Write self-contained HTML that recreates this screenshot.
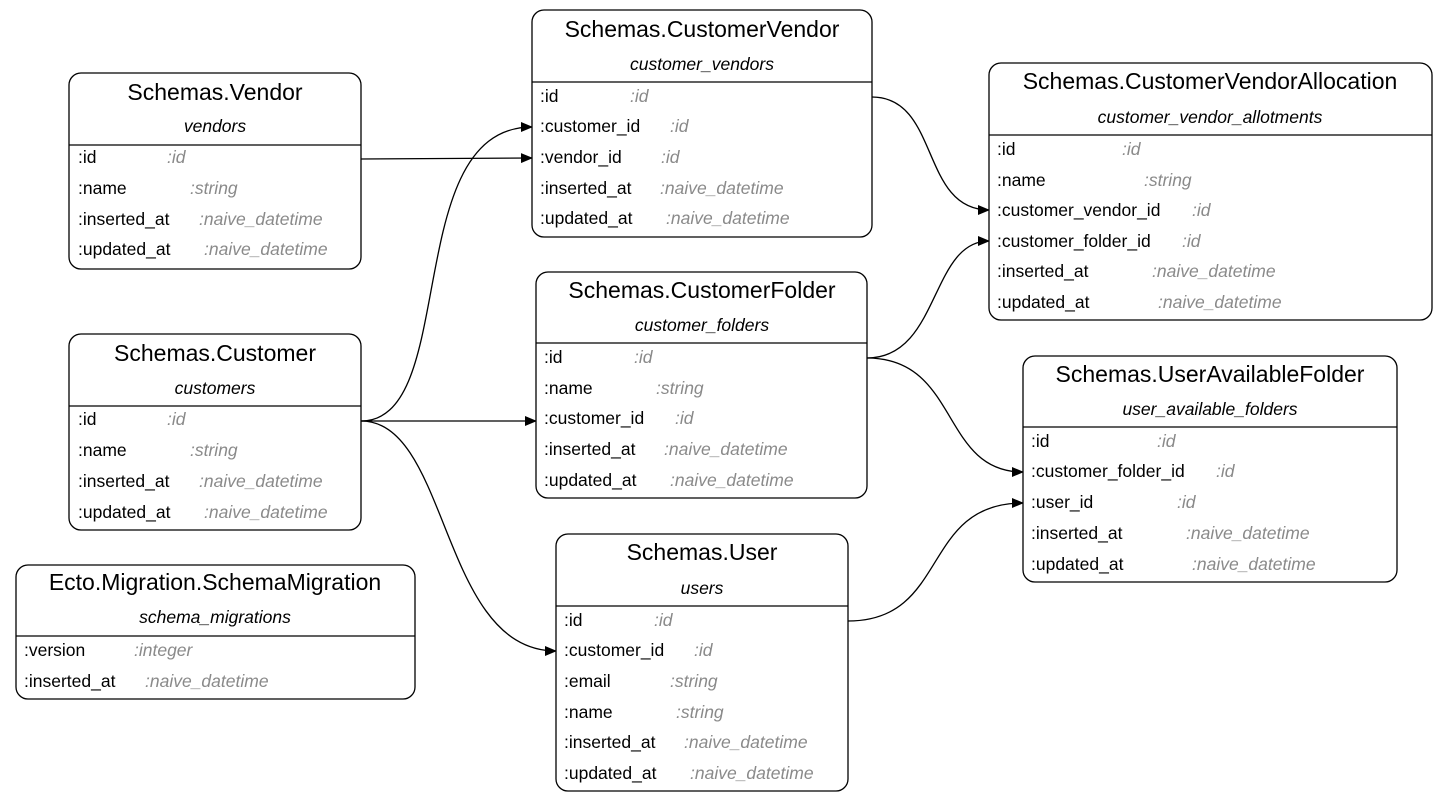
<!DOCTYPE html>
<html><head><meta charset="utf-8"><style>
html,body{margin:0;padding:0;background:#fff;}
svg{display:block;font-family:"Liberation Sans",Arial,sans-serif;}
.t{font-size:23px;fill:#000;text-anchor:middle}
.s{font-size:17.5px;font-style:italic;fill:#000;text-anchor:middle}
.f{font-size:17.5px;fill:#000}
.y{font-size:17.5px;font-style:italic;fill:#8a8a8a}
.b{fill:#fff;stroke:#000;stroke-width:1.3}
.e{fill:none;stroke:#000;stroke-width:1.3}
</style></head><body>
<svg width="1448" height="802" viewBox="0 0 1448 802">
<defs><marker id="a" markerWidth="12" markerHeight="10" refX="11" refY="5" orient="auto" markerUnits="userSpaceOnUse"><path d="M0,0 L12,5 L0,10 z" fill="#000"/></marker></defs>

<path class="e" marker-end="url(#a)" d="M361,159 L532,158"/>
<path class="e" marker-end="url(#a)" d="M361,421 C460,421 400,127 532,127"/>
<path class="e" marker-end="url(#a)" d="M361,421 L536,421"/>
<path class="e" marker-end="url(#a)" d="M361,421 C450,421 440,651 556,651"/>
<path class="e" marker-end="url(#a)" d="M872,97 C940,97 920,210 989,210"/>
<path class="e" marker-end="url(#a)" d="M867,358 C940,358 930,241 989,241"/>
<path class="e" marker-end="url(#a)" d="M867,358 C960,358 940,472 1023,472"/>
<path class="e" marker-end="url(#a)" d="M848,621 C950,621 920,503 1023,503"/>

<rect class="b" x="69" y="73" width="292" height="196" rx="12"/>
<text class="t" x="215" y="100">Schemas.Vendor</text>
<text class="s" x="215" y="132">vendors</text>
<line class="e" x1="69" y1="145" x2="361" y2="145"/>
<text class="f" x="78" y="163">:id</text><text class="y" x="167" y="163">:id</text>
<text class="f" x="78" y="194">:name</text><text class="y" x="190" y="194">:string</text>
<text class="f" x="78" y="225">:inserted_at</text><text class="y" x="199" y="225">:naive_datetime</text>
<text class="f" x="78" y="255">:updated_at</text><text class="y" x="204" y="255">:naive_datetime</text>

<rect class="b" x="69" y="334" width="292" height="196" rx="12"/>
<text class="t" x="215" y="361">Schemas.Customer</text>
<text class="s" x="215" y="394">customers</text>
<line class="e" x1="69" y1="406" x2="361" y2="406"/>
<text class="f" x="78" y="425">:id</text><text class="y" x="167" y="425">:id</text>
<text class="f" x="78" y="456">:name</text><text class="y" x="190" y="456">:string</text>
<text class="f" x="78" y="487">:inserted_at</text><text class="y" x="199" y="487">:naive_datetime</text>
<text class="f" x="78" y="518">:updated_at</text><text class="y" x="204" y="518">:naive_datetime</text>

<rect class="b" x="16" y="565" width="399" height="134" rx="12"/>
<text class="t" x="215" y="590">Ecto.Migration.SchemaMigration</text>
<text class="s" x="215" y="623">schema_migrations</text>
<line class="e" x1="16" y1="636" x2="415" y2="636"/>
<text class="f" x="24" y="656">:version</text><text class="y" x="134" y="656">:integer</text>
<text class="f" x="24" y="687">:inserted_at</text><text class="y" x="145" y="687">:naive_datetime</text>

<rect class="b" x="532" y="10" width="340" height="227" rx="12"/>
<text class="t" x="702" y="37">Schemas.CustomerVendor</text>
<text class="s" x="702" y="70">customer_vendors</text>
<line class="e" x1="532" y1="82" x2="872" y2="82"/>
<text class="f" x="540" y="102">:id</text><text class="y" x="630" y="102">:id</text>
<text class="f" x="540" y="132">:customer_id</text><text class="y" x="670" y="132">:id</text>
<text class="f" x="540" y="163">:vendor_id</text><text class="y" x="661" y="163">:id</text>
<text class="f" x="540" y="194">:inserted_at</text><text class="y" x="660" y="194">:naive_datetime</text>
<text class="f" x="540" y="224">:updated_at</text><text class="y" x="666" y="224">:naive_datetime</text>

<rect class="b" x="536" y="272" width="331" height="226" rx="12"/>
<text class="t" x="702" y="298">Schemas.CustomerFolder</text>
<text class="s" x="702" y="331">customer_folders</text>
<line class="e" x1="536" y1="343" x2="867" y2="343"/>
<text class="f" x="544" y="363">:id</text><text class="y" x="634" y="363">:id</text>
<text class="f" x="544" y="394">:name</text><text class="y" x="656" y="394">:string</text>
<text class="f" x="544" y="424">:customer_id</text><text class="y" x="675" y="424">:id</text>
<text class="f" x="544" y="455">:inserted_at</text><text class="y" x="664" y="455">:naive_datetime</text>
<text class="f" x="544" y="486">:updated_at</text><text class="y" x="670" y="486">:naive_datetime</text>

<rect class="b" x="556" y="534" width="292" height="257" rx="12"/>
<text class="t" x="702" y="560">Schemas.User</text>
<text class="s" x="702" y="594">users</text>
<line class="e" x1="556" y1="606" x2="848" y2="606"/>
<text class="f" x="564" y="626">:id</text><text class="y" x="654" y="626">:id</text>
<text class="f" x="564" y="656">:customer_id</text><text class="y" x="694" y="656">:id</text>
<text class="f" x="564" y="687">:email</text><text class="y" x="670" y="687">:string</text>
<text class="f" x="564" y="718">:name</text><text class="y" x="676" y="718">:string</text>
<text class="f" x="564" y="748">:inserted_at</text><text class="y" x="684" y="748">:naive_datetime</text>
<text class="f" x="564" y="779">:updated_at</text><text class="y" x="690" y="779">:naive_datetime</text>

<rect class="b" x="989" y="63" width="443" height="257" rx="12"/>
<text class="t" x="1210" y="89">Schemas.CustomerVendorAllocation</text>
<text class="s" x="1210" y="123">customer_vendor_allotments</text>
<line class="e" x1="989" y1="135" x2="1432" y2="135"/>
<text class="f" x="997" y="155">:id</text><text class="y" x="1122" y="155">:id</text>
<text class="f" x="997" y="186">:name</text><text class="y" x="1144" y="186">:string</text>
<text class="f" x="997" y="216">:customer_vendor_id</text><text class="y" x="1192" y="216">:id</text>
<text class="f" x="997" y="247">:customer_folder_id</text><text class="y" x="1182" y="247">:id</text>
<text class="f" x="997" y="277">:inserted_at</text><text class="y" x="1152" y="277">:naive_datetime</text>
<text class="f" x="997" y="308">:updated_at</text><text class="y" x="1158" y="308">:naive_datetime</text>

<rect class="b" x="1023" y="356" width="374" height="226" rx="12"/>
<text class="t" x="1210" y="382">Schemas.UserAvailableFolder</text>
<text class="s" x="1210" y="415">user_available_folders</text>
<line class="e" x1="1023" y1="427" x2="1397" y2="427"/>
<text class="f" x="1031" y="447">:id</text><text class="y" x="1157" y="447">:id</text>
<text class="f" x="1031" y="477">:customer_folder_id</text><text class="y" x="1216" y="477">:id</text>
<text class="f" x="1031" y="508">:user_id</text><text class="y" x="1177" y="508">:id</text>
<text class="f" x="1031" y="539">:inserted_at</text><text class="y" x="1186" y="539">:naive_datetime</text>
<text class="f" x="1031" y="570">:updated_at</text><text class="y" x="1192" y="570">:naive_datetime</text>
</svg>
</body></html>
